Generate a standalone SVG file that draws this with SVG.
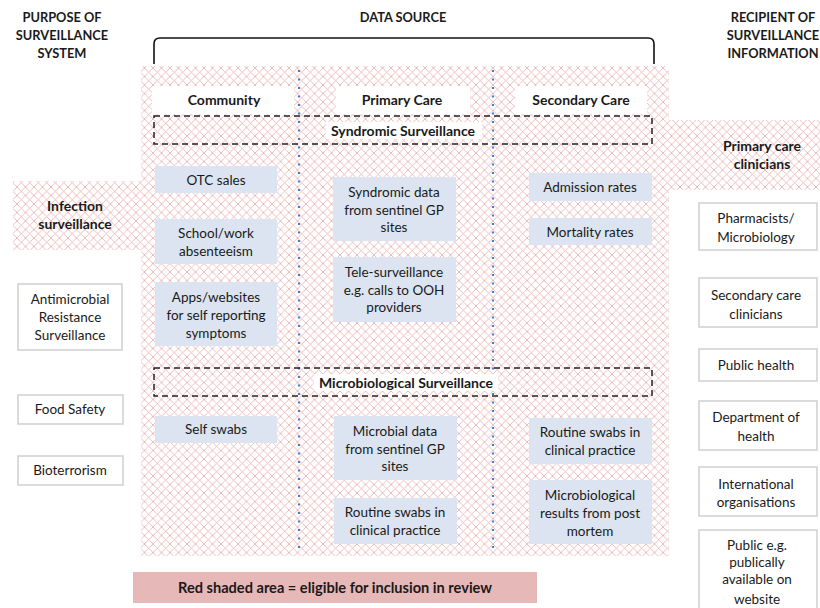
<svg xmlns="http://www.w3.org/2000/svg" width="820" height="608" viewBox="0 0 820 608">
<defs>
  <pattern id="hatch" patternUnits="userSpaceOnUse" width="8.5" height="8.5">
    <rect width="8.5" height="8.5" fill="#ffffff"/>
    <path d="M0,0 L8.5,8.5 M8.5,0 L0,8.5" stroke="#eab0b0" stroke-width="0.85" fill="none"/>
  </pattern>
  <style>
    text { font-family: Lato, "Open Sans", "Liberation Sans", sans-serif; fill: #1a1a1a; text-anchor: middle; }
    .hd { font-weight: bold; font-size: 12.8px; }
    .b { font-weight: bold; font-size: 14px; }
    .lg { font-weight: bold; font-size: 14.6px; }
    .t { font-size: 13.5px; }
    .src { fill: #dbe4f0; stroke: none; }
    .side { fill: #ffffff; stroke: #cfcfcf; stroke-width: 1.5; }
    .dash { fill: none; stroke: #222; stroke-width: 1.5; stroke-dasharray: 6 4; }
    .dot { stroke: #3d7fd6; stroke-width: 2.2; stroke-dasharray: 2 6.5; fill: none; }
  </style>
</defs>
<rect width="820" height="608" fill="#ffffff"/>

<!-- hatched eligible area -->
<g id="hatched-area">
  <rect x="141" y="66" width="528" height="490" fill="url(#hatch)"/>
  <rect x="13" y="181" width="130" height="69" fill="url(#hatch)"/>
  <rect x="667" y="120" width="153" height="70" fill="url(#hatch)"/>
</g>

<!-- headers -->
<g id="headers">
  <text class="hd" x="62" y="22">PURPOSE OF</text>
  <text class="hd" x="62" y="40">SURVEILLANCE</text>
  <text class="hd" x="62" y="58">SYSTEM</text>
  <text class="hd" x="403" y="22">DATA SOURCE</text>
  <text class="hd" x="773" y="22">RECIPIENT OF</text>
  <text class="hd" x="773" y="40">SURVEILLANCE</text>
  <text class="hd" x="773" y="58">INFORMATION</text>
  <path d="M154,64 L154,44 Q154,38 160,38 L648,38 Q654,38 654,44 L654,64" fill="none" stroke="#111" stroke-width="1.6"/>
</g>

<!-- connectors: column dividers -->
<g id="connectors">
  <line class="dot" x1="299" y1="70" x2="299" y2="554"/>
  <line class="dot" x1="493" y1="70" x2="493" y2="554"/>
</g>

<!-- column headers -->
<g id="col-community">
  <rect x="152" y="86" width="142" height="28" fill="#ffffff"/>
  <text class="b" x="224" y="105">Community</text>
</g>
<g id="col-primary">
  <rect x="336" y="86" width="134" height="28" fill="#ffffff"/>
  <text class="b" x="402" y="105">Primary Care</text>
</g>
<g id="col-secondary">
  <rect x="515" y="86" width="132" height="28" fill="#ffffff"/>
  <text class="b" x="581" y="105">Secondary Care</text>
</g>

<g id="syndromic">
  <rect x="326" y="122" width="156" height="17" fill="#ffffff"/>
  <rect class="dash" x="154" y="116" width="498" height="28"/>
  <text class="b" x="403" y="136">Syndromic Surveillance</text>
</g>
<g id="microbiological">
  <rect x="314" y="374" width="184" height="17" fill="#ffffff"/>
  <rect class="dash" x="154" y="368" width="498" height="28"/>
  <text class="b" x="406" y="388">Microbiological Surveillance</text>
</g>

<!-- data source boxes -->
<g id="otc"><rect class="src" x="155" y="166" width="122" height="27"/><text class="t" x="216" y="185">OTC sales</text></g>
<g id="school"><rect class="src" x="155" y="219" width="122" height="45"/><text class="t" x="216" y="238">School/work</text><text class="t" x="216" y="256">absenteeism</text></g>
<g id="apps"><rect class="src" x="155" y="282" width="122" height="64"/><text class="t" x="216" y="302">Apps/websites</text><text class="t" x="216" y="320">for self reporting</text><text class="t" x="216" y="338">symptoms</text></g>
<g id="syndromic-data"><rect class="src" x="333" y="177" width="123" height="64"/><text class="t" x="394" y="197">Syndromic data</text><text class="t" x="394" y="215">from sentinel GP</text><text class="t" x="394" y="232">sites</text></g>
<g id="tele"><rect class="src" x="333" y="257" width="123" height="65"/><text class="t" x="394" y="277">Tele-surveillance</text><text class="t" x="394" y="295">e.g. calls to OOH</text><text class="t" x="394" y="312">providers</text></g>
<g id="admission"><rect class="src" x="529" y="173" width="123" height="28"/><text class="t" x="590" y="192">Admission rates</text></g>
<g id="mortality"><rect class="src" x="529" y="218" width="123" height="27"/><text class="t" x="590" y="237">Mortality rates</text></g>
<g id="self-swabs"><rect class="src" x="155" y="416" width="122" height="27"/><text class="t" x="216" y="434">Self swabs</text></g>
<g id="microbial-data"><rect class="src" x="334" y="416" width="123" height="64"/><text class="t" x="395" y="436">Microbial data</text><text class="t" x="395" y="454">from sentinel GP</text><text class="t" x="395" y="471">sites</text></g>
<g id="routine-primary"><rect class="src" x="334" y="498" width="123" height="46"/><text class="t" x="395" y="517">Routine swabs in</text><text class="t" x="395" y="535">clinical practice</text></g>
<g id="routine-secondary"><rect class="src" x="529" y="418" width="123" height="46"/><text class="t" x="590" y="437">Routine swabs in</text><text class="t" x="590" y="455">clinical practice</text></g>
<g id="post-mortem"><rect class="src" x="529" y="480" width="123" height="64"/><text class="t" x="590" y="500">Microbiological</text><text class="t" x="590" y="518">results from post</text><text class="t" x="590" y="536">mortem</text></g>

<!-- purpose boxes -->
<g id="infection">
  <text class="b" x="75" y="211">Infection</text>
  <text class="b" x="75" y="229">surveillance</text>
</g>
<g id="amr"><rect class="side" x="18" y="284" width="104" height="66"/><text class="t" x="70" y="304">Antimicrobial</text><text class="t" x="70" y="322">Resistance</text><text class="t" x="70" y="340">Surveillance</text></g>
<g id="food"><rect class="side" x="18" y="395" width="105" height="29"/><text class="t" x="70" y="414">Food Safety</text></g>
<g id="bioterrorism"><rect class="side" x="18" y="456" width="105" height="29"/><text class="t" x="70" y="475">Bioterrorism</text></g>

<!-- recipient boxes -->
<g id="primary-clinicians">
  <text class="b" x="762" y="151">Primary care</text>
  <text class="b" x="762" y="169">clinicians</text>
</g>
<g id="pharmacists"><rect class="side" x="699" y="203" width="118" height="47"/><text class="t" x="756" y="223">Pharmacists/</text><text class="t" x="756" y="242">Microbiology</text></g>
<g id="secondary-clinicians"><rect class="side" x="699" y="278" width="118" height="49"/><text class="t" x="756" y="300">Secondary care</text><text class="t" x="756" y="319">clinicians</text></g>
<g id="public-health"><rect class="side" x="699" y="349" width="118" height="32"/><text class="t" x="756" y="370">Public health</text></g>
<g id="doh"><rect class="side" x="699" y="401" width="118" height="49"/><text class="t" x="756" y="422">Department of</text><text class="t" x="756" y="441">health</text></g>
<g id="international"><rect class="side" x="699" y="467" width="118" height="49"/><text class="t" x="756" y="489">International</text><text class="t" x="756" y="507">organisations</text></g>
<g id="public"><rect class="side" x="699" y="530" width="118" height="84"/><text class="t" x="757" y="550">Public e.g.</text><text class="t" x="757" y="567">publically</text><text class="t" x="757" y="584">available on</text><text class="t" x="757" y="604">website</text></g>

<!-- legend -->
<g id="legend">
  <rect x="133" y="572" width="404" height="31" fill="#e6b8b7"/>
  <text class="lg" x="335" y="593">Red shaded area = eligible for inclusion in review</text>
</g>
</svg>
